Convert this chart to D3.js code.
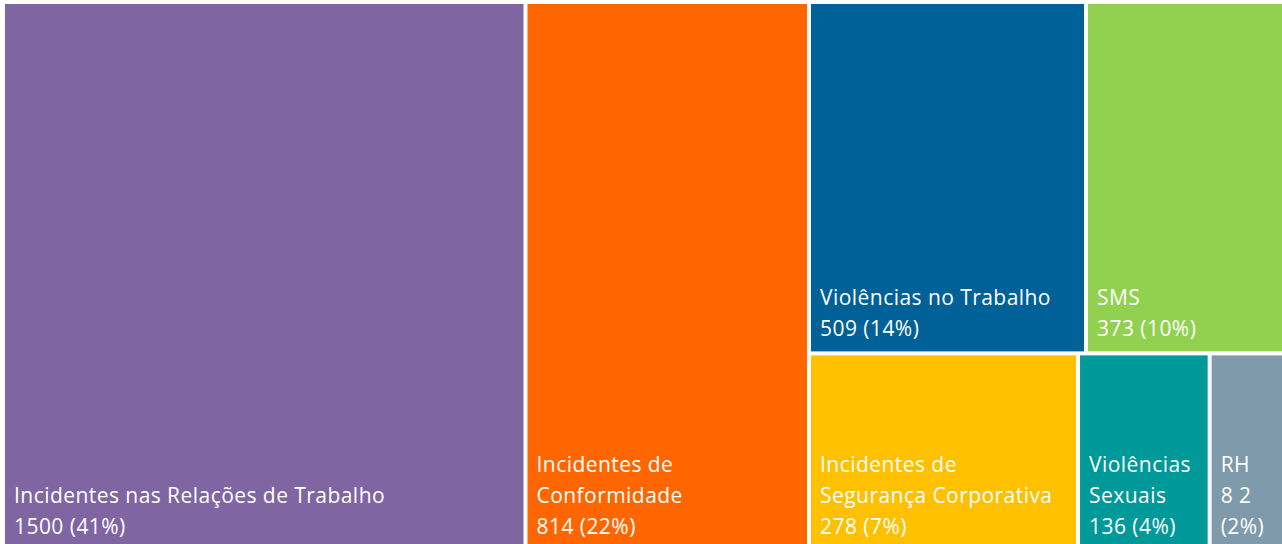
<!DOCTYPE html>
<meta charset="utf-8">
<title>Treemap</title>
<style>
body {
  margin: 0px;
  background: #fff;
  overflow: hidden;
}
svg {
  display: block;
}
text {
  font-family: "Open Sans", sans-serif;
  font-size: 21px;
  letter-spacing: 0.45px;
  fill: #fff;
}
</style>
<script src="https://d3js.org/d3.v7.min.js"></script>
<body>
<script>
var width = 1282, height = 544;

// data
var categorias = ["Incidentes nas Relações de Trabalho", "Incidentes de Conformidade",
  "Violências no Trabalho", "SMS", "Incidentes de Segurança Corporativa",
  "Violências Sexuais", "RH"];
var valores = [1500, 814, 509, 373, 278, 136, 82];
var percentuais = ["41%", "22%", "14%", "10%", "7%", "4%", "2%"];
var cores = ["#7f65a2", "#ff6600", "#006098", "#92d050", "#ffc000", "#00999a", "#7f9aab"];
// lines of each label (as wrapped in the picture)
var linhas = [
  ["Incidentes nas Relações de Trabalho"],
  ["Incidentes de", "Conformidade"],
  ["Violências no Trabalho"],
  ["SMS"],
  ["Incidentes de", "Segurança Corporativa"],
  ["Violências", "Sexuais"],
  ["RH"]
];
// how the blocks are grouped in the layout (index into the arrays)
var grupos = [0, 1, [[2, 3], [4, 5, 6]]];

function montar(g) {
  if (Array.isArray(g)) return { children: g.map(montar) };
  return { i: g, value: valores[g] };
}

var root = d3.hierarchy(montar(grupos)).sum(function(d) { return d.value || 0; });

d3.treemap()
    .tile(d3.treemapSliceDice)
    .size([1282, 545])
    .paddingInner(4)
    (root);

var svg = d3.select("body").append("svg")
    .attr("width", width)
    .attr("height", height);

var g = svg.append("g").attr("transform", "translate(5,4)");

var cell = g.selectAll("g.cell")
    .data(root.leaves())
  .enter().append("g")
    .attr("class", "cell")
    .attr("transform", function(d) { return "translate(" + d.x0 + "," + d.y0 + ")"; });

cell.append("rect")
    .attr("width", function(d) { return d.x1 - d.x0; })
    .attr("height", function(d) { return d.y1 - d.y0; })
    .attr("fill", function(d) { return cores[d.data.i]; });

cell.each(function(d) {
  var i = d.data.i;
  var ls = linhas[i].slice();
  if (i === 6) {
    ls.push("8 2");
    ls.push("(" + percentuais[i] + ")");
  } else {
    ls.push(valores[i] + " (" + percentuais[i] + ")");
  }
  var h = d.y1 - d.y0;
  d3.select(this).selectAll("text")
      .data(ls)
    .enter().append("text")
      .attr("x", 9)
      .attr("y", function(t, j) { return h - 15 - (ls.length - 1 - j) * 31; })
      .text(function(t) { return t; });
});
</script>
